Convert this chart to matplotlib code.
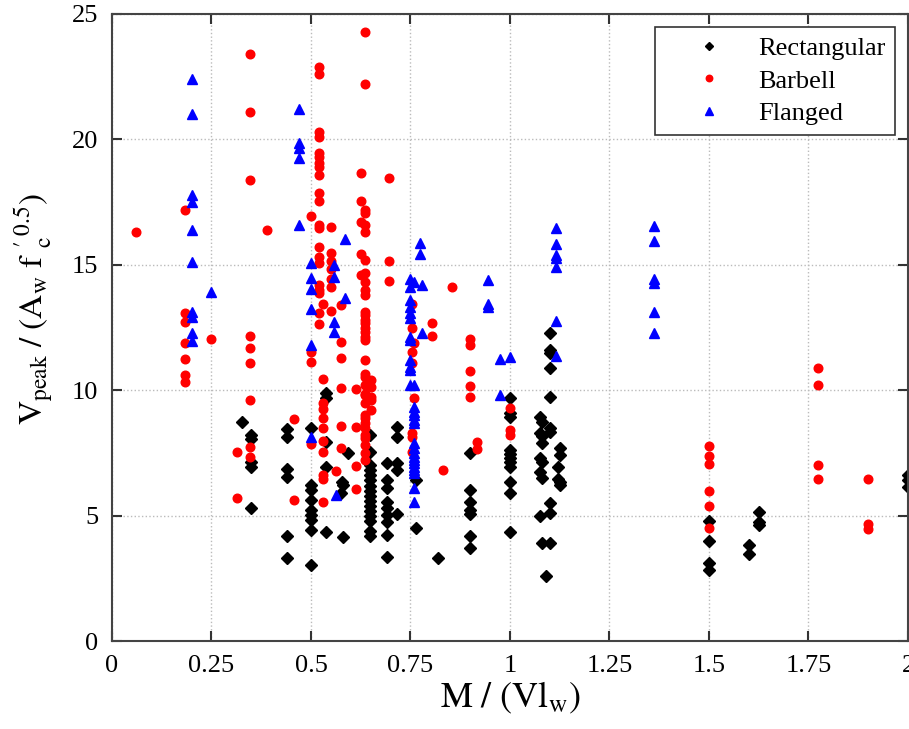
import matplotlib
matplotlib.use('Agg')
import matplotlib.pyplot as plt

# Rectangular walls (black diamonds)
rect_x = [0.326,
          0.35, 0.35, 0.35, 0.35, 0.35,
          0.44, 0.44, 0.44, 0.44, 0.44, 0.44,
          0.50, 0.50, 0.50, 0.50, 0.50, 0.50, 0.50, 0.50, 0.50,
          0.537, 0.537, 0.537, 0.537, 0.537,
          0.578, 0.58, 0.575, 0.58, 0.593,
          0.648, 0.648, 0.648, 0.648, 0.648, 0.648, 0.648, 0.648, 0.648, 0.648, 0.648, 0.648, 0.648, 0.648, 0.648, 0.648,
          0.69, 0.69, 0.69, 0.69, 0.69, 0.69, 0.69, 0.69, 0.69,
          0.715, 0.715, 0.715, 0.715, 0.715,
          0.765, 0.765, 0.82,
          0.90, 0.90, 0.90, 0.90, 0.90, 0.90, 0.90,
          1.0, 1.0, 1.0, 1.0, 1.0, 1.0, 1.0, 1.0, 1.0, 1.0, 1.0,
          1.075, 1.08, 1.075, 1.08, 1.08, 1.075, 1.08, 1.075, 1.08, 1.075, 1.08,
          1.10, 1.10, 1.10, 1.10, 1.10, 1.10, 1.10, 1.10, 1.10, 1.10, 1.09,
          1.125, 1.125, 1.12, 1.12, 1.125, 1.125,
          1.5, 1.5, 1.5, 1.5,
          1.60, 1.60,
          1.626, 1.626, 1.626,
          2.0, 2.0, 2.0]
rect_y = [8.72,
          8.21, 8.04, 7.15, 6.95, 5.29,
          8.45, 8.15, 6.85, 6.55, 4.20, 3.30,
          8.48, 6.22, 6.02, 5.62, 5.22, 5.02, 4.82, 4.43, 3.05,
          9.90, 9.68, 7.95, 6.93, 4.36,
          6.35, 6.22, 5.92, 4.13, 7.48,
          8.21, 7.55, 7.00, 6.80, 6.60, 6.40, 6.20, 6.00, 5.80, 5.60, 5.40, 5.20, 5.00, 4.80, 4.40, 4.20,
          7.11, 6.42, 6.09, 5.55, 5.29, 5.02, 4.76, 4.23, 3.36,
          8.55, 8.15, 7.08, 6.82, 5.05,
          6.42, 4.49, 3.32,
          7.48, 6.02, 5.55, 5.22, 5.06, 4.19, 3.72,
          9.68, 9.08, 8.95, 7.62, 7.46, 7.28, 7.12, 6.95, 6.35, 5.92, 4.36,
          8.95, 8.75, 8.28, 8.17, 7.88, 7.28, 7.15, 6.72, 6.49, 5.00, 3.90,
          12.30, 11.60, 11.50, 10.90, 9.72, 8.48, 8.35, 5.49, 5.09, 3.90, 2.60,
          7.71, 7.42, 6.95, 6.45, 6.35, 6.22,
          4.80, 4.00, 3.10, 2.83,
          3.83, 3.47,
          5.16, 4.76, 4.63,
          6.62, 6.42, 6.15]

# Barbell walls (red circles)
barb_x = [0.06,
          0.183, 0.183, 0.183, 0.183, 0.183, 0.183, 0.183,
          0.25, 0.313, 0.313,
          0.348, 0.348, 0.348, 0.348, 0.348, 0.348, 0.348, 0.348, 0.348,
          0.39, 0.458, 0.458,
          0.50, 0.50, 0.50, 0.50,
          0.52, 0.52, 0.52, 0.52, 0.52, 0.52, 0.52, 0.52, 0.52, 0.52, 0.52,
          0.52, 0.52, 0.52, 0.52, 0.52, 0.52, 0.52, 0.52, 0.52, 0.52,
          0.529, 0.529, 0.529, 0.529, 0.529, 0.529, 0.529, 0.529, 0.529, 0.529, 0.529,
          0.55, 0.55, 0.55, 0.55, 0.55, 0.55, 0.55,
          0.575, 0.575, 0.575, 0.575, 0.575, 0.575, 0.564,
          0.613, 0.613, 0.613, 0.613,
          0.625, 0.625, 0.625, 0.625, 0.625,
          0.636, 0.636, 0.636, 0.636, 0.636, 0.636, 0.636, 0.636, 0.636, 0.636, 0.636, 0.636,
          0.636, 0.636, 0.636, 0.636, 0.636, 0.636, 0.636, 0.636, 0.636, 0.636, 0.636, 0.636,
          0.636, 0.636, 0.636, 0.636, 0.636, 0.636, 0.636, 0.636, 0.636, 0.636, 0.636,
          0.65, 0.65, 0.65, 0.65, 0.65,
          0.696, 0.696, 0.696,
          0.753, 0.753, 0.758, 0.753, 0.753, 0.758, 0.753, 0.753, 0.753,
          0.805, 0.805, 0.832, 0.855,
          0.90, 0.90, 0.90, 0.90, 0.90,
          0.918, 0.918,
          1.0, 1.0, 1.0,
          1.5, 1.5, 1.5, 1.5, 1.5, 1.5,
          1.775, 1.775, 1.775, 1.775,
          1.90, 1.90, 1.90]
barb_y = [16.30,
          17.20, 13.07, 12.70, 11.90, 11.25, 10.60, 10.34,
          12.04, 7.55, 5.71,
          23.40, 21.10, 18.40, 12.16, 11.67, 11.07, 9.61, 7.75, 7.34,
          16.40, 8.84, 5.62,
          16.93, 11.54, 11.14, 7.85,
          22.90, 22.60, 20.30, 20.10, 19.47, 19.31, 19.05, 18.90, 18.58, 17.87, 17.54,
          16.57, 16.45, 15.70, 15.30, 15.06, 14.18, 14.00, 13.89, 13.09, 12.64,
          13.44, 10.45, 9.50, 9.24, 8.88, 8.48, 7.97, 7.55, 6.62, 6.46, 5.53,
          16.50, 15.46, 15.17, 14.83, 14.45, 14.10, 13.16,
          13.40, 11.94, 11.27, 10.07, 8.57, 7.71, 6.79,
          10.03, 8.54, 6.98, 6.06,
          18.67, 17.53, 16.72, 15.43, 14.59,
          24.27, 22.20, 17.19, 17.08, 16.59, 16.30, 15.19, 14.66, 14.32, 14.00, 13.80, 13.13,
          13.00, 12.80, 12.67, 12.47, 12.34, 12.14, 12.00, 11.20, 10.65, 10.54, 10.21, 9.84,
          9.81, 9.50, 9.00, 8.90, 8.70, 8.50, 8.20, 8.10, 7.80, 7.50, 7.20,
          10.41, 10.12, 9.74, 9.60, 9.20,
          18.48, 15.17, 14.37,
          13.44, 12.47, 11.90, 11.54, 11.07, 9.68, 8.28, 8.15, 7.55,
          12.67, 12.16, 6.82, 14.13,
          12.03, 11.80, 10.75, 10.18, 9.74,
          7.95, 7.66,
          9.28, 8.41, 8.21,
          7.78, 7.38, 7.04, 6.00, 5.40, 4.52,
          10.87, 10.19, 7.00, 6.45,
          6.45, 4.67, 4.47]

# Flanged walls (blue triangles)
flan_x = [0.20, 0.20, 0.20, 0.20, 0.20, 0.20, 0.20, 0.20, 0.20, 0.20,
          0.25,
          0.47, 0.47, 0.47, 0.47, 0.47,
          0.50, 0.50, 0.50, 0.50, 0.50, 0.50,
          0.558, 0.558, 0.558, 0.558, 0.564,
          0.585, 0.585,
          0.748, 0.748, 0.748, 0.748, 0.748, 0.748, 0.748, 0.748, 0.748, 0.748, 0.748, 0.748,
          0.759, 0.759, 0.759, 0.759, 0.759, 0.759, 0.759, 0.759, 0.759, 0.759, 0.759,
          0.759, 0.759, 0.759, 0.759, 0.759, 0.759, 0.759,
          0.773, 0.773, 0.78, 0.78,
          0.945, 0.945, 0.945,
          0.976, 0.976, 1.0,
          1.116, 1.116, 1.116, 1.116, 1.116, 1.116, 1.116,
          1.363, 1.363, 1.363, 1.363, 1.363, 1.363]
flan_y = [22.40, 21.00, 17.80, 17.50, 16.40, 15.10, 13.10, 12.90, 12.30, 11.97,
          13.90,
          21.20, 19.87, 19.64, 19.25, 16.60,
          15.06, 14.49, 14.05, 13.22, 11.80, 8.12,
          14.99, 14.53, 12.73, 12.31, 5.82,
          16.04, 13.69,
          14.45, 14.10, 13.60, 13.33, 13.07, 12.87, 12.14, 12.00, 11.20, 10.94, 10.81, 10.20,
          14.30, 10.20, 9.34, 9.14, 9.01, 8.81, 8.68, 7.88, 7.68, 7.48, 7.35,
          7.22, 7.08, 6.95, 6.82, 6.69, 6.09, 5.55,
          15.86, 15.43, 14.18, 12.27,
          14.39, 13.44, 13.33,
          11.26, 9.81, 11.34,
          16.45, 15.83, 15.39, 15.26, 14.90, 12.77, 11.38,
          16.55, 15.94, 14.42, 14.29, 13.10, 12.27]

x_ticks = [0, 0.25, 0.5, 0.75, 1, 1.25, 1.5, 1.75, 2]
x_ticklabels = ['0', '0.25', '0.5', '0.75', '1', '1.25', '1.5', '1.75', '2']
y_ticks = [0, 5, 10, 15, 20, 25]

plt.rcParams['font.family'] = 'Liberation Serif'
plt.rcParams['mathtext.fontset'] = 'stix'

fig = plt.figure(figsize=(9.09, 7.29), dpi=100)
ax = fig.add_axes([0.1232, 0.1207, 0.8757, 0.8601])

ax.plot(rect_x, rect_y, 'D', color='black', ms=5.8, mec='black', label='Rectangular')
ax.plot(barb_x, barb_y, 'o', color='red', ms=6.2, mec='red', label='Barbell')
ax.plot(flan_x, flan_y, '^', color='blue', ms=7, mec='blue', label='Flanged')

ax.set_xlim(0, 2)
ax.set_ylim(0, 25)
ax.set_xticks(x_ticks)
ax.set_xticklabels(x_ticklabels)
ax.set_yticks(y_ticks)
ax.tick_params(direction='in', top=True, right=True, length=7, width=1.5,
               color='#333333', labelsize=19, pad=10)
ax.grid(True, linestyle=':', color='#bbbbbb', linewidth=1)
for sp in ax.spines.values():
    sp.set_color('#444444')
    sp.set_linewidth(1.5)

ax.set_xlabel(r'$\mathrm{M\ /\ (Vl_w)}$', fontsize=26, labelpad=2)
ax.set_ylabel(r"$\mathrm{V_{peak}\ /\ (A_{w}\ f\ _{c}^{\prime\ 0.5})}$", fontsize=24)
ax.yaxis.set_label_coords(-0.072, 0.53)

leg = ax.legend(loc='upper right', fontsize=19, markerscale=0.75, handlelength=3.4,
                handletextpad=0.15, borderpad=0.35, labelspacing=0.35, fancybox=False,
                framealpha=1, edgecolor='#333333', borderaxespad=0.5)
leg.get_frame().set_linewidth(1.2)

fig.savefig('out.png', dpi=100)
